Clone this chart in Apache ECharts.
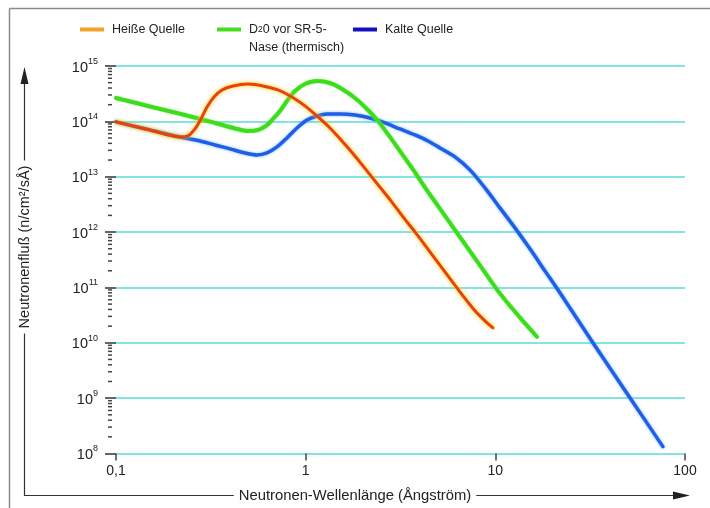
<!DOCTYPE html>
<html>
<head>
<meta charset="utf-8">
<script src="https://cdn.jsdelivr.net/npm/echarts@6/dist/echarts.min.js"></script>
<style>
html,body{margin:0;padding:0;background:#fff;}
#chart{width:710px;height:508px;}
</style>
</head>
<body>
<div id="chart"></div>
<script>
// ---- data (wavelength in Å, flux in n/cm²/sÅ) ----
const hotSource = [
  [0.1, 9.8e13], [0.151, 6.99e13], [0.2175, 5.23e13], [0.2396, 5.45e13], [0.2609, 7.29e13],
  [0.2806, 1.105e14], [0.3018, 1.82e14], [0.3286, 2.76e14], [0.3621, 3.69e14], [0.4138, 4.36e14],
  [0.4963, 4.73e14], [0.5955, 4.36e14], [0.7145, 3.69e14], [0.8468, 2.76e14], [0.9915, 1.90e14],
  [1.161, 1.20e14], [1.343, 7.60e13], [1.554, 4.43e13], [1.819, 2.375e13], [2.104, 1.273e13],
  [2.434, 6.82e12], [2.817, 3.66e12], [3.258, 1.88e12], [3.769, 1.008e12], [4.36, 5.19e11],
  [5.044, 2.67e11], [5.834, 1.372e11], [6.75, 7.05e10], [7.808, 3.78e10], [8.925, 2.39e10],
  [9.714, 1.866e10]
];
const d2oThermal = [
  [0.1, 2.645e14], [0.151, 1.858e14], [0.231, 1.305e14], [0.3326, 9.36e13], [0.4239, 7.44e13],
  [0.4963, 6.71e13], [0.5605, 6.99e13], [0.6176, 8.26e13], [0.6725, 1.105e14], [0.7319, 1.54e14],
  [0.797, 2.335e14], [0.8782, 3.54e14], [0.9915, 4.73e14], [1.147, 5.36e14], [1.343, 4.93e14],
  [1.554, 3.84e14], [1.819, 2.645e14], [2.104, 1.674e14], [2.405, 1.017e14], [2.782, 5.23e13],
  [3.218, 2.58e13], [3.723, 1.273e13], [4.307, 6.02e12], [4.983, 2.97e12], [5.764, 1.466e12],
  [6.667, 7.23e11], [7.714, 3.57e11], [8.925, 1.76e11], [10.32, 8.68e10], [11.94, 4.66e10],
  [13.81, 2.6e10], [16.57, 1.283e10]
];
const coldSource = [
  [0.1, 9.8e13], [0.151, 6.99e13], [0.2175, 5.23e13], [0.2772, 4.43e13], [0.3326, 3.75e13],
  [0.399, 3.18e13], [0.4786, 2.69e13], [0.5538, 2.475e13], [0.6252, 2.69e13], [0.7058, 3.45e13],
  [0.797, 5.02e13], [0.8997, 7.6e13], [1.016, 1.06e14], [1.147, 1.25e14], [1.295, 1.36e14],
  [1.516, 1.36e14], [1.819, 1.305e14], [2.183, 1.152e14], [2.618, 9.36e13], [3.141, 7.29e13],
  [3.769, 5.68e13], [4.413, 4.43e13], [5.105, 3.31e13], [6.124, 2.28e13], [7.346, 1.33e13],
  [8.816, 6.28e12], [10.57, 2.74e12], [12.69, 1.19e12], [15.22, 4.98e11], [18.26, 1.99e11],
  [21.9, 7.99e10], [32.69, 1.0e10], [51.23, 1.02e9], [76.46, 1.33e8]
];
const xTickLabels = {'-1': '0,1', '0': '1', '1': '10', '2': '100'};
const yMinorTicks = [];
for (let e = 8; e < 15; e++) { for (let m = 2; m <= 9; m++) yMinorTicks.push([0.1, m * Math.pow(10, e)]); }

const NAME_HOT = 'Heiße Quelle';
const NAME_D2O = 'D20 vor SR-5- Nase (thermisch)';
const NAME_COLD = 'Kalte Quelle';

const FONT = 'Liberation Sans, Arial, sans-serif';
const chart = echarts.init(document.getElementById('chart'), null, {renderer: 'canvas'});

function legendCfg(left, name, color, padTop) {
  return {
    left: left, top: 23, orient: 'horizontal', padding: 0,
    itemWidth: 24, itemHeight: 4, itemGap: 8,
    icon: 'rect',
    selectedMode: false,
    data: [{name: name, itemStyle: {color: color}}],
    formatter: function (n) {
      if (n === NAME_D2O) return '{t|D}{s|2}{t|0 vor SR-5-}\n{t|Nase (thermisch)}';
      return '{t|' + n + '}';
    },
    textStyle: {
      fontFamily: FONT, color: '#222', padding: [padTop, 0, 0, 3],
      rich: {
        t: {fontFamily: FONT, fontSize: 12.5, color: '#222', lineHeight: 18},
        s: {fontFamily: FONT, fontSize: 8.5, color: '#222', lineHeight: 18}
      }
    }
  };
}

const option = {
  animation: false,
  backgroundColor: '#fff',
  grid: {left: 116, right: 25, top: 66, bottom: 54.5, containLabel: false},
  legend: [
    legendCfg(80, NAME_HOT, '#f5a228', 0),
    legendCfg(217, NAME_D2O, '#44dd22', 18),
    legendCfg(353, NAME_COLD, '#1010c0', 0)
  ],
  xAxis: {
    type: 'log', logBase: 10, min: 0.1, max: 100,
    axisLine: {show: false},
    axisTick: {show: true, length: 7, lineStyle: {color: '#444', width: 1.5}},
    splitLine: {show: false},
    minorTick: {show: false},
    axisLabel: {
      margin: 11, fontFamily: FONT, fontSize: 14, color: '#222',
      formatter: function (v) { return xTickLabels[String(Math.round(Math.log10(v)))]; }
    }
  },
  yAxis: {
    type: 'log', logBase: 10, min: 1e8, max: 1e15,
    axisLine: {show: false},
    axisTick: {show: true, length: 11, lineStyle: {color: '#333', width: 1.5}},
    splitLine: {show: true, lineStyle: {color: '#84e4e2', width: 2}},
    axisLabel: {
      margin: 18, fontFamily: FONT, color: '#222',
      formatter: function (v) { return '{b|10}{e|' + Math.round(Math.log10(v)) + '}'; },
      rich: {
        b: {fontFamily: FONT, fontSize: 14.5, color: '#222', lineHeight: 18, verticalAlign: 'bottom'},
        e: {fontFamily: FONT, fontSize: 9, color: '#222', lineHeight: 18, verticalAlign: 'top'}
      }
    }
  },
  series: [
    {
      type: 'custom', name: 'minorTicks', silent: true, z: 1,
      data: yMinorTicks,
      renderItem: function (params, api) {
        const p = api.coord([api.value(0), api.value(1)]);
        return {type: 'line', shape: {x1: p[0] - 8, y1: p[1], x2: p[0] - 4, y2: p[1]},
          style: {stroke: '#444', lineWidth: 1.5}};
      }
    },
    {
      type: 'line', name: NAME_COLD, data: coldSource, smooth: 0.3, showSymbol: false, z: 3,
      lineStyle: {color: '#1f5fe8', width: 3.5, cap: 'round', join: 'round',
        shadowColor: 'rgba(90,160,255,0.8)', shadowBlur: 3}
    },
    {
      type: 'line', name: NAME_D2O, data: d2oThermal, smooth: 0.3, showSymbol: false, z: 4,
      lineStyle: {color: '#3ddc1f', width: 4, cap: 'round', join: 'round',
        shadowColor: 'rgba(120,240,90,0.7)', shadowBlur: 2}
    },
    {
      type: 'line', name: NAME_HOT, data: hotSource, smooth: 0.3, showSymbol: false, z: 5,
      lineStyle: {color: '#e8420c', width: 3, cap: 'round', join: 'round',
        shadowColor: 'rgba(255,200,0,1)', shadowBlur: 4}
    }
  ],
  graphic: [
    // outer frame
    {type: 'line', shape: {x1: 9.5, y1: 8.5, x2: 9.5, y2: 508}, style: {stroke: '#8a8a8a', lineWidth: 1.5}, silent: true},
    {type: 'line', shape: {x1: 9.5, y1: 8.5, x2: 710, y2: 8.5}, style: {stroke: '#8a8a8a', lineWidth: 1.5}, silent: true},
    // arrow axes
    {type: 'polyline', shape: {points: [[24.5, 80], [24.5, 495.5], [676, 495.5]]}, style: {stroke: '#333', fill: null, lineWidth: 1.2}, silent: true},
    {type: 'polygon', shape: {points: [[24.5, 67], [20.5, 84], [28.5, 84]]}, style: {fill: '#222'}, silent: true},
    {type: 'polygon', shape: {points: [[690, 495.5], [673, 491.5], [673, 499.5]]}, style: {fill: '#222'}, silent: true},
    {type: 'text', x: 355, y: 495.5, style: {text: 'Neutronen-Wellenlänge (Ångström)', font: '14.8px ' + FONT, fill: '#222',
      align: 'center', verticalAlign: 'middle', backgroundColor: '#fff', padding: [0, 5]}, silent: true},
    {type: 'text', x: 24.5, y: 247, rotation: Math.PI / 2, style: {text: 'Neutronenfluß (n/cm²/sÅ)', font: '14.5px ' + FONT, fill: '#222',
      align: 'center', verticalAlign: 'middle', backgroundColor: '#fff', padding: [0, 5]}, silent: true}
  ]
};
chart.setOption(option);
</script>
</body>
</html>
